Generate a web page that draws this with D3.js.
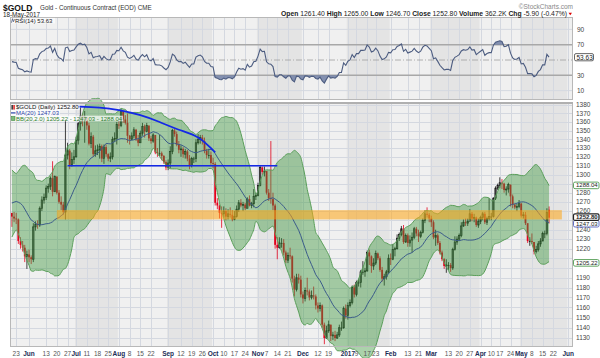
<!DOCTYPE html>
<html><head><meta charset="utf-8">
<script src="https://cdn.jsdelivr.net/npm/d3@7/dist/d3.min.js"></script>
<style>body{margin:0;background:#fff}svg{display:block;font-family:"Liberation Sans",Arial,sans-serif}</style>
</head><body><svg id="c" width="600" height="358"></svg>
<script>
// ---------------- DATA ----------------
const startDate = "2016-05-19", endDate = "2017-06-02";
const holidays = ["2016-05-30","2016-07-04","2016-09-05","2016-11-24","2016-12-26","2017-01-02","2017-01-16","2017-02-20","2017-04-14","2017-05-29"];
// closes before the visible range (needed for MA / BB / RSI look-back)
const warmupCloses = [1222,1219,1228,1225,1240,1243,1258,1260,1246,1227,1235,1234,1254,1250,1250,1231,1237,1244,1250,1266,1290,1295,1294,1280,1274,1290,1266,1265,1277,1264,1273,1285,1280,1258];
const closes = [
 1254,1252,1251,1228,1224,1221,1212,1214,
 1211,1209,1243,1246,1245,1263,1272,1275,1285,1287,1296,1281,1298,1280,1270,1267,1259,1322,1327,1311,1317,1320,
 1339,1358,1367,1362,1366,1356,1335,1343,1323,1327,1328,1332,1318,1331,1323,1318,1320,1340,1341,1357,
 1356,1373,1363,1359,1344,1340,1344,1351,1340,1336,1347,1355,1349,1356,1341,1338,1345,1325,1324,1324,1321,1314,1308,
 1313,1326,1350,1346,1334,1328,1329,1323,1326,1318,1310,1318,1318,1336,1340,1342,1338,1327,1322,1322,1313,
 1312,1269,1266,1258,1257,1260,1254,1257,1256,1251,1254,1262,1269,1266,1267,1263,1273,1266,1268,1276,1277,
 1288,1308,1303,1304,1280,1274,1273,1266,1224,1221,1226,1226,1216,1208,1213,1212,1189,1178,1190,1188,1173,
 1169,1177,1176,1170,1172,1171,1162,1159,1162,1143,1130,1137,1143,1132,1133,1130,1133,1140,1140,1159,1152,
 1162,1165,1180,1173,1185,1185,1196,1196,1197,1216,1212,1202,1205,1215,1210,1198,1189,1191,1196,1210,
 1209,1219,1220,1231,1235,1241,1227,1234,1226,1229,1232,1241,1236,1233,1237,1250,1257,1256,1252,
 1248,1232,1234,1226,1216,1209,1202,1203,1203,1200,1219,1227,1230,1234,1244,1248,1247,1249,1257,1252,1253,1245,1249,
 1253,1257,1248,1252,1254,1254,1274,1285,1288,1291,1290,1283,1284,1289,1276,1267,1264,1265,1268,
 1255,1256,1247,1228,1228,1227,1217,1219,1225,1228,1236,1236,1258.7,1252.8];
const highs = [
 1258,1259,1258,1252,1232,1228,1224,1218,
 1219,1213,1247,1249,1250,1265,1276,1279,1288,1290,1298,1315,1299,1297,1283,1276,1270,1362,1336,1329,1325,1328,
 1343,1360,1377,1370,1373,1365,1359,1348,1345,1333,1334,1335,1334,1334,1334,1324,1325,1343,1348,1360,
 1362,1375,1370,1368,1370,1345,1348,1354,1352,1345,1350,1359,1357,1359,1355,1344,1347,1344,1330,1345,1326,1322,1316,
 1317,1332,1352,1352,1349,1338,1333,1331,1329,1328,1322,1320,1320,1340,1346,1345,1345,1342,1329,1329,1326,
 1319,1314,1274,1267,1265,1265,1263,1262,1264,1261,1260,1266,1272,1273,1270,1269,1275,1277,1270,1284,1280,
 1291,1310,1309,1309,1303,1284,1338,1280,1268,1232,1232,1231,1230,1218,1216,1221,1213,1192,1194,1194,1192,
 1176,1180,1190,1178,1177,1181,1173,1165,1165,1163,1145,1142,1147,1143,1136,1137,1136,1143,1146,1161,1163,
 1165,1168,1182,1183,1187,1189,1198,1207,1200,1218,1219,1213,1210,1218,1216,1212,1201,1194,1198,1214,
 1215,1225,1222,1235,1237,1244,1245,1236,1236,1234,1237,1243,1243,1240,1239,1252,1261,1264,1258,
 1255,1250,1240,1236,1228,1218,1210,1209,1206,1205,1221,1233,1233,1236,1248,1251,1252,1252,1262,1259,1257,1254,1252,
 1255,1259,1259,1254,1274,1258,1275,1287,1290,1297,1295,1291,1287,1291,1280,1278,1268,1268,1272,
 1269,1259,1259,1236,1232,1236,1227,1223,1228,1231,1238,1239,1263,1265];
const lows = [
 1243,1248,1246,1225,1220,1217,1206,1199,
 1206,1204,1206,1239,1241,1243,1260,1268,1272,1280,1283,1276,1281,1278,1268,1261,1256,1251,1317,1306,1309,1312,
 1319,1334,1350,1355,1336,1351,1333,1330,1320,1320,1322,1318,1314,1312,1320,1315,1314,1317,1337,1334,
 1352,1354,1359,1357,1336,1334,1339,1341,1338,1332,1336,1344,1342,1348,1338,1335,1336,1323,1320,1321,1316,1312,1305,
 1305,1307,1323,1343,1332,1324,1320,1319,1318,1315,1306,1308,1313,1314,1334,1335,1334,1324,1318,1318,1311,
 1307,1266,1262,1252,1242,1253,1250,1251,1253,1249,1250,1253,1259,1264,1260,1261,1263,1265,1263,1264,1272,
 1276,1287,1300,1298,1278,1271,1268,1261,1220,1209,1220,1221,1213,1205,1205,1209,1185,1171,1176,1184,1170,
 1164,1166,1172,1167,1168,1168,1158,1155,1156,1140,1124,1129,1135,1127,1128,1127,1129,1131,1137,1139,1149,
 1148,1160,1163,1170,1171,1181,1180,1193,1191,1196,1203,1195,1198,1203,1208,1196,1186,1182,1188,1194,
 1203,1208,1212,1219,1228,1233,1225,1226,1222,1222,1216,1230,1233,1227,1231,1236,1247,1253,1248,
 1243,1230,1223,1224,1214,1207,1199,1195,1198,1196,1198,1218,1224,1228,1232,1243,1244,1244,1251,1249,1248,1243,1242,
 1246,1250,1246,1245,1250,1250,1253,1272,1283,1285,1284,1280,1277,1280,1265,1263,1262,1260,1263,
 1253,1252,1245,1226,1223,1225,1214,1215,1217,1222,1228,1231,1234,1246.7];
const lastOpen = 1261.4;

const priceTicks = [1130,1140,1150,1160,1170,1180,1190,1200,1210,1220,1230,1240,1250,1260,1270,1280,1290,1300,1310,1320,1330,1340,1350,1360,1370,1380];
const rsiTicks = [10,30,50,70,90];
const xTickDates = ["2016-05-23","2016-06-01","2016-06-13","2016-06-20","2016-06-27","2016-07-01","2016-07-11","2016-07-18","2016-07-25","2016-08-01","2016-08-08","2016-08-15","2016-08-22","2016-09-01","2016-09-12","2016-09-19","2016-09-26","2016-10-03","2016-10-10","2016-10-17","2016-10-24","2016-11-01","2016-11-07","2016-11-14","2016-11-21","2016-12-01","2016-12-12","2016-12-19","2017-01-03","2017-01-09","2017-01-17","2017-01-23","2017-02-01","2017-02-13","2017-02-21","2017-03-01","2017-03-13","2017-03-20","2017-03-27","2017-04-03","2017-04-10","2017-04-17","2017-04-24","2017-05-01","2017-05-08","2017-05-15","2017-05-22","2017-06-01"];
const xTickLabels = ["23","Jun","13","20","27","Jul","11","18","25","Aug","8","15","22","Sep","12","19","26","Oct","10","17","24","Nov","7","14","21","Dec","12","19","2017","9","17","23","Feb","13","21","Mar","13","20","27","Apr","10","17","24","May","8","15","22","Jun"];

const zoneDates = ["2016-06-20","2017-05-26"];
const zonePrices = [1251,1261];
const supportDates = ["2016-06-27","2016-11-14"];
const supportPrice = 1310;
const arcDates = ["2016-07-05","2016-07-19","2016-08-01","2016-08-15","2016-08-26","2016-09-09","2016-09-22","2016-10-04"];
const arcPrices = [1378,1377,1374,1368,1360,1351,1342,1325];

const valueTags = ["1288.04","1252.80","1247.03","1205.22"];
const rsiTag = "53.63";

// ---------------- SETUP ----------------
const svg = d3.select("#c");
const parse = d3.utcParse("%Y-%m-%d"), fmt = d3.utcFormat("%Y-%m-%d");
const days = [];
for (let d = parse(startDate); d <= parse(endDate); d = d3.utcDay.offset(d,1)) {
  const wd = d.getUTCDay();
  if (wd===0||wd===6||holidays.includes(fmt(d))) continue;
  days.push(fmt(d));
}
const di = s => days.indexOf(s);
const L=10, R=573;
const x = d3.scaleLinear().domain([-0.9,262.2]).range([L,R]);
const rTop=17, rBot=100, mTop=102, mBot=347;
const yR = d3.scaleLinear().domain([0,100]).range([98.3,21.7]);
const yP = d3.scaleLog().domain([1130,1380]).range([338,105]);

// indicators
const all = warmupCloses.concat(closes), W = warmupCloses.length;
const ma=[], bu=[], bl=[];
closes.forEach((c,i)=>{
  const win = all.slice(W+i-19, W+i+1);
  const m = d3.mean(win);
  const sd = Math.sqrt(d3.mean(win, v=>(v-m)*(v-m)));
  ma.push(m); bu.push(m+2*sd); bl.push(m-2*sd);
});
let ag=0, al=0;
for (let k=1;k<=14;k++){const ch=all[k]-all[k-1]; if(ch>0) ag+=ch; else al-=ch;}
ag/=14; al/=14;
const rsiAll=[]; rsiAll[14]=100-100/(1+ag/al);
for (let k=15;k<all.length;k++){const ch=all[k]-all[k-1]; ag=(ag*13+Math.max(ch,0))/14; al=(al*13+Math.max(-ch,0))/14; rsiAll[k]=100-100/(1+ag/al);}
const rsi = closes.map((c,i)=>rsiAll[W+i]);

// ---------------- BACKGROUND ----------------
const bg = svg.append("g");
[[rTop,rBot],[mTop,mBot]].forEach(([t,b])=>{
  bg.append("rect").attr("x",L).attr("y",t).attr("width",R-L).attr("height",b-t).attr("fill","#f0f0f0");
});
// month shading (alternate full months)
const months = d3.groups(days.map((d,i)=>({d,i})), o=>o.d.slice(0,7));
months.forEach(([m,arr],k)=>{
  const mo = +m.slice(5,7);
  if (mo%2!==1 || k===0) return;
  const x0 = Math.max(L, x(arr[0].i-0.5)), x1 = Math.min(R, x(arr[arr.length-1].i+0.5));
  if (x1<=x0) return;
  [[rTop,rBot],[mTop,mBot]].forEach(([t,b])=>{
    bg.append("rect").attr("x",x0).attr("y",t).attr("width",x1-x0).attr("height",b-t).attr("fill","#e4e4e4");
  });
});
// grid
const grid = svg.append("g").attr("stroke","#d4d8e0").attr("stroke-width",1);
xTickDates.forEach(d=>{
  const xx = Math.round(x(di(d)))+0.5;
  [[rTop,rBot],[mTop,mBot]].forEach(([t,b])=>grid.append("line").attr("x1",xx).attr("x2",xx).attr("y1",t).attr("y2",b));
});
priceTicks.forEach(p=>{const yy=Math.round(yP(p))+0.5; grid.append("line").attr("x1",L).attr("x2",R).attr("y1",yy).attr("y2",yy);});
rsiTicks.forEach(v=>{
  const yy=yR(v);
  const ln = svg.append("line").attr("x1",L).attr("x2",R).attr("y1",yy).attr("y2",yy);
  if (v===30||v===70) ln.attr("stroke","#a8a8a8").attr("stroke-width",1.6);
  else if (v===50) ln.attr("stroke","#a0a0a0").attr("stroke-width",0.8).attr("stroke-dasharray","6,2,1,2");
  else ln.attr("stroke","#d4d8e0");
});

// ---------------- RSI ----------------
const rsiG = svg.append("g");
rsiG.append("path").datum(rsi).attr("fill","#6878a0").attr("opacity",0.8)
  .attr("d", d3.area().x((d,i)=>x(i)).y0(yR(70)).y1(d=>yR(Math.max(d,70))));
rsiG.append("path").datum(rsi).attr("fill","#6878a0").attr("opacity",0.8)
  .attr("d", d3.area().x((d,i)=>x(i)).y0(yR(30)).y1(d=>yR(Math.min(d,30))));
rsiG.append("path").datum(rsi).attr("fill","none").attr("stroke","#4c5c80").attr("stroke-width",1.1)
  .attr("d", d3.line().x((d,i)=>x(i)).y(d=>yR(d)));

// ---------------- CANDLES ----------------
const cg = svg.append("g");
closes.forEach((c,i)=>{
  const prev = i===0 ? warmupCloses[W-1] : closes[i-1];
  const o = i===closes.length-1 ? lastOpen : prev;
  const col = c>=prev ? "#111" : "#e3001b";
  const xx = x(i);
  cg.append("line").attr("x1",xx).attr("x2",xx).attr("y1",yP(highs[i])).attr("y2",yP(lows[i])).attr("stroke",col).attr("stroke-width",0.8);
  const t = yP(Math.max(o,c)), b = yP(Math.min(o,c));
  const h = Math.max(b-t,0.8);
  if (c>o) cg.append("rect").attr("x",xx-0.7).attr("y",t).attr("width",1.4).attr("height",h).attr("fill","none").attr("stroke",col).attr("stroke-width",0.7);
  else cg.append("rect").attr("x",xx-0.9).attr("y",t).attr("width",1.8).attr("height",h).attr("fill",col);
});

// ---------------- BOLLINGER + MA ----------------
const bbG = svg.append("g");
bbG.append("path").datum(closes).attr("fill","rgb(60,150,60)").attr("opacity",0.43)
  .attr("d", d3.area().x((d,i)=>x(i)).y0((d,i)=>yP(bl[i])).y1((d,i)=>yP(bu[i])).curve(d3.curveMonotoneX));
[bu,bl].forEach(arr=>bbG.append("path").datum(arr).attr("fill","none").attr("stroke","#5b9f5b").attr("stroke-width",1)
  .attr("d", d3.line().x((d,i)=>x(i)).y(d=>yP(d)).curve(d3.curveMonotoneX)));
bbG.append("path").datum(ma).attr("fill","none").attr("stroke","#3b5b8a").attr("stroke-width",1)
  .attr("d", d3.line().x((d,i)=>x(i)).y(d=>yP(d)));

// ---------------- ANNOTATIONS ----------------
svg.append("rect").attr("x",x(di(zoneDates[0]))).attr("width",x(di(zoneDates[1]))-x(di(zoneDates[0])))
  .attr("y",yP(zonePrices[1])).attr("height",yP(zonePrices[0])-yP(zonePrices[1]))
  .attr("fill","rgb(255,165,20)").attr("opacity",0.55);
svg.append("line").attr("x1",x(di(supportDates[0]))).attr("x2",x(di(supportDates[1])))
  .attr("y1",yP(supportPrice)).attr("y2",yP(supportPrice)).attr("stroke","#1428e6").attr("stroke-width",1.6);
svg.append("path").datum(arcDates.map((d,k)=>[x(di(d)),yP(arcPrices[k])]))
  .attr("fill","none").attr("stroke","#1428e6").attr("stroke-width",1.8)
  .attr("d", d3.line().curve(d3.curveNatural));

// ---------------- PANEL BORDERS ----------------
svg.append("rect").attr("x",L+0.5).attr("y",rTop+0.5).attr("width",R-L-1).attr("height",rBot-rTop-1).attr("fill","none").attr("stroke","#b8b8b8");
svg.append("rect").attr("x",L+0.5).attr("y",mTop+0.5).attr("width",R-L-1).attr("height",mBot-mTop-1).attr("fill","none").attr("stroke","#b8b8b8");
svg.append("line").attr("x1",L).attr("x2",R).attr("y1",mTop+1).attr("y2",mTop+1).attr("stroke","#b0b0b0").attr("stroke-width",2);

// ---------------- AXES ----------------
const tagPrices = valueTags.map(Number);
const tagYs = tagPrices.map(p=>yP(p));
priceTicks.forEach(p=>{
  const yy = yP(p);
  if (tagYs.some(t=>Math.abs(t-yy)<6.5)) return; // hidden behind value tag
  svg.append("text").attr("x",576).attr("y",yy+2.3).attr("font-size","6.5px").attr("fill","#444").text(p);
});
rsiTicks.forEach(v=>{
  if (Math.abs(yR(v)-yR(+rsiTag))<6.5) return;
  svg.append("text").attr("x",577).attr("y",yR(v)+2.3).attr("font-size","6.5px").attr("fill","#444").text(v);
});
xTickDates.forEach((d,k)=>{
  const lab = xTickLabels[k];
  const isMonth = isNaN(+lab) || lab==="2017";
  svg.append("text").attr("x",x(di(d))).attr("y",355.5).attr("text-anchor","middle")
    .attr("font-size","6.5px").attr("font-weight",isMonth?"bold":"normal").attr("fill",isMonth?"#1c2c55":"#555").text(lab);
});

// value tags on right axis
const tagColors = ["#4f9a4f","#222","#5560c0","#4f9a4f"];
const tagShift = [0,-0.6,0.6,0];
[0,3,2,1].forEach(k=>{
  const yy = tagYs[k]+tagShift[k];
  svg.append("rect").attr("x",573.5).attr("y",yy-3.3).attr("width",25.5).attr("height",6.6).attr("rx",1.5)
    .attr("fill","#fff").attr("stroke",tagColors[k]).attr("stroke-width",k===1?1.2:0.9);
  svg.append("text").attr("x",576).attr("y",yy+2).attr("font-size","6px").attr("font-weight",k===1?"bold":"normal")
    .attr("fill","#222").text(valueTags[k]);
});
{
  const yy = yR(+rsiTag);
  svg.append("rect").attr("x",574.5).attr("y",yy-3.6).attr("width",19).attr("height",7.2).attr("rx",1.5)
    .attr("fill","#fff").attr("stroke","#555").attr("stroke-width",0.9);
  svg.append("text").attr("x",576.5).attr("y",yy+2.3).attr("font-size","6.5px").attr("fill","#222").text(rsiTag);
}

// ---------------- LEGENDS ----------------
function legend(yc, txt, color, icon){
  const t = svg.append("text").attr("x",16).attr("y",yc+2.1).attr("font-size","6px").attr("fill",color).text(txt);
  const w = t.node().getComputedTextLength();
  svg.insert("rect", "text").attr("x",11).attr("y",yc-2.8).attr("width",w+6).attr("height",5.6).attr("fill","#fff").attr("opacity",0.7);
  t.raise();
  if (icon==="candle"){
    svg.append("rect").attr("x",11.5).attr("y",yc-2.3).attr("width",1.3).attr("height",4.6).attr("fill","#111");
    svg.append("rect").attr("x",13.4).attr("y",yc-2.3).attr("width",1.3).attr("height",4.6).attr("fill","#d00");
  } else if (icon==="line"){
    svg.append("line").attr("x1",11).attr("x2",15.5).attr("y1",yc).attr("y2",yc).attr("stroke",color).attr("stroke-width",1.2);
  } else {
    svg.append("rect").attr("x",11.5).attr("y",yc-2).attr("width",3.5).attr("height",4).attr("fill","#7cb87c").attr("stroke",color).attr("stroke-width",0.5);
  }
}
legend(107.3, "$GOLD (Daily) 1252.80", "#111", "candle");
legend(112.9, "MA(20) 1247.03", "#2a45a8", "line");
legend(118.5, "BB(20,2.0) 1205.22 - 1247.03 - 1288.04", "#2d7d2d", "box");
{
  const yc=20.7;
  svg.append("rect").attr("x",11).attr("y",yc-2.8).attr("width",44).attr("height",5.6).attr("fill","#fff").attr("opacity",0.6);
  svg.append("path").attr("d",`M11.5 ${yc+2} L12.5 ${yc-2} L13.5 ${yc+1} L14.5 ${yc-1.5}`).attr("fill","none").attr("stroke","#4c5c80").attr("stroke-width",0.8);
  svg.append("text").attr("x",15).attr("y",yc+2.1).attr("font-size","6px").attr("fill","#222").text("RSI(14) 53.63");
}

// ---------------- HEADER ----------------
svg.append("text").attr("x",3).attr("y",10.5).attr("font-size","8.5px").attr("font-weight","bold").attr("fill","#111").text("$GOLD");
svg.append("text").attr("x",40).attr("y",10.3).attr("font-size","6.3px").attr("fill","#333").text("Gold - Continuous Contract (EOD)  CME");
svg.append("text").attr("x",3).attr("y",17).attr("font-size","6.3px").attr("fill","#222").text("18-May-2017");
svg.append("text").attr("x",573).attr("y",8.5).attr("text-anchor","end").attr("font-size","6.5px").attr("fill","#888").text("©StockCharts.com");
const hdr = svg.append("text").attr("x",567).attr("y",15.8).attr("text-anchor","end").attr("font-size","6.8px").attr("fill","#222");
[["Open",1],[" 1261.40 ",0],["High",1],[" 1265.00 ",0],["Low",1],[" 1246.70 ",0],["Close",1],[" 1252.80 ",0],["Volume",1],[" 362.2K ",0],["Chg",1],[" -5.90 (-0.47%)",0]]
  .forEach(([s,b])=>hdr.append("tspan").attr("font-weight",b?"bold":"normal").text(s));
svg.append("path").attr("d","M568.5 12.8 L572 12.8 L570.25 15.3 Z").attr("fill","#d00");
</script></body></html>
